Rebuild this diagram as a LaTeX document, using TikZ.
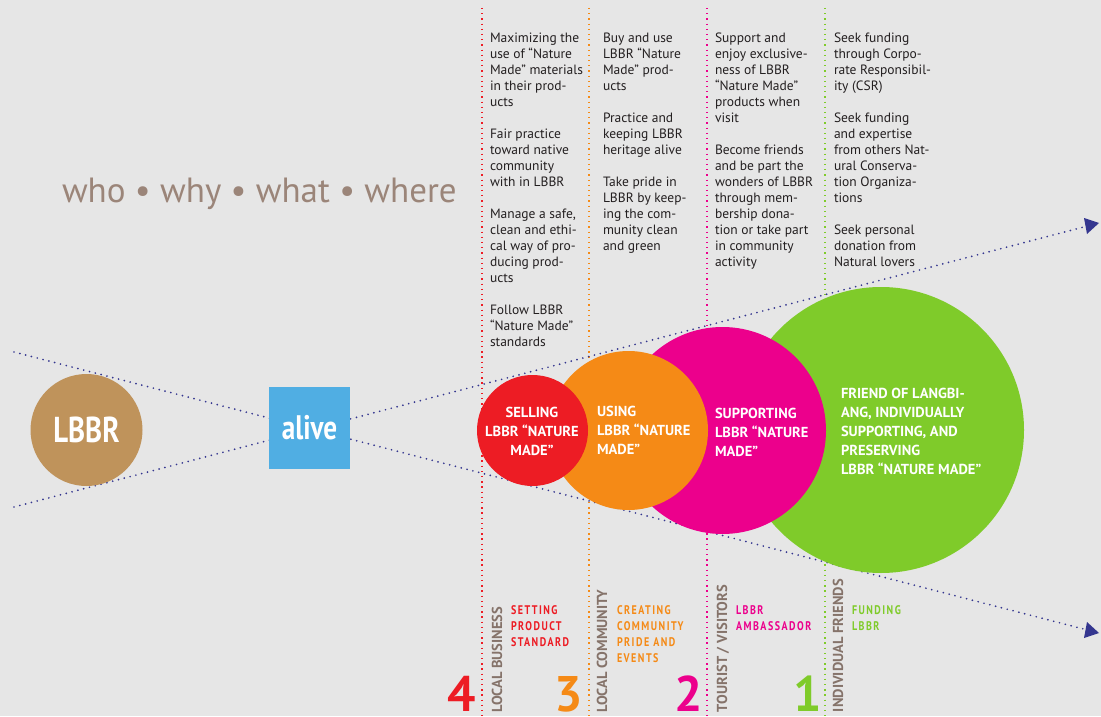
\documentclass[tikz,border=0pt]{standalone}
\usepackage{fontspec}
\setmainfont{PT Sans}
\newfontfamily\condfont[FakeStretch=0.8]{PT Sans}
\newfontfamily\spacedfont[FakeStretch=0.8,LetterSpace=12]{PT Sans}
\usepackage{tikz}
\usetikzlibrary{arrows.meta}
\usepackage{xcolor}
\definecolor{bggray}{HTML}{E6E6E6}
\definecolor{lbbrbrown}{HTML}{BF935B}
\definecolor{aliveblue}{HTML}{50AEE3}
\definecolor{sellred}{HTML}{ED1C24}
\definecolor{useorange}{HTML}{F58A16}
\definecolor{suppmagenta}{HTML}{EC008C}
\definecolor{friendgreen}{HTML}{7FCB2A}
\definecolor{taupe}{HTML}{9B8579}
\definecolor{sidetaupe}{HTML}{85736A}
\definecolor{flowblue}{HTML}{34368F}
\definecolor{inkblack}{HTML}{231F20}

\begin{document}
\begin{tikzpicture}[x=1pt, y=-1pt,
    every node/.style={inner sep=0pt, outer sep=0pt},
    guide/.style={line width=1.8pt, dash pattern=on 1.3pt off 3.9pt},
    flow/.style={draw=flowblue, line width=1.9pt, dash pattern=on 0pt off 6pt, line cap=round},
    col/.style={anchor=base west, align=left, text=inkblack, font=\fontsize{13.5}{16}\selectfont},
    disc/.style={circle, minimum size=#1},
    inlabel/.style={text=white, align=left, font=\bfseries\fontsize{14.5}{19}\selectfont},
    side/.style={rotate=90, anchor=base west, text=sidetaupe, font=\bfseries\fontsize{14.5}{16}\selectfont},
    aim/.style={anchor=base west, align=left, font=\spacedfont\bfseries\fontsize{12.5}{16}\selectfont},
    rank/.style={anchor=base, font=\bfseries\fontsize{50}{50}\selectfont}
]
    % background
    \fill[bggray] (0,0) rectangle (1101,716);

    % column guides
    \draw[guide, sellred] (482,8) -- (482,716);
    \draw[guide, useorange] (589,8) -- (589,716);
    \draw[guide, suppmagenta] (707,8) -- (707,716);
    \draw[guide, friendgreen] (825,8) -- (825,716);

    % title
    \node[anchor=base west, text=taupe, font=\fontsize{35}{35}\selectfont] (title) at (62,202) {who • why • what • where};

    % the two dotted rays, crossing at alive
    \coordinate (rayUp) at (14,352);
    \coordinate (rayDown) at (14,507);
    \coordinate (tipLow) at (1099,633);
    \coordinate (tipHigh) at (1099,223);
    \draw[flow] (rayUp) -- (tipLow);
    \draw[flow] (rayDown) -- (tipHigh);
    \fill[flowblue] (tipHigh) -- ++(-15,-5) -- ++(3,16) -- cycle;
    \fill[flowblue] (tipLow) -- ++(-15,5) -- ++(3,-16) -- cycle;

    % start
    \node[disc=112pt, fill=lbbrbrown, text=white, font=\condfont\bfseries\fontsize{36}{36}\selectfont] (lbbr) at (86.5,430) {LBBR};
    \node[minimum width=81pt, minimum height=82pt, fill=aliveblue, text=white, font=\condfont\bfseries\fontsize{34}{34}\selectfont] (alive) at (309.5,428) {alive};

    % circles, biggest first
    \node[disc=286pt, fill=friendgreen] (friend) at (881,430) {};
    \node[disc=207pt, fill=suppmagenta] (support) at (722.5,430.5) {};
    \node[disc=159pt, fill=useorange] (using) at (628.5,430.5) {};
    \node[disc=111pt, fill=sellred] (selling) at (532.5,430.5) {};

    \node[inlabel, align=center] (sellText) at (532,431) {SELLING\\LBBR “NATURE\\MADE”};
    \node[inlabel, anchor=west] (useText) at (597,430) {USING\\LBBR “NATURE\\MADE”};
    \node[inlabel, anchor=west] (suppText) at (715,432) {SUPPORTING\\LBBR “NATURE\\MADE”};
    \node[inlabel, anchor=west] (friendText) at (841,431) {FRIEND OF LANGBI-\\ANG, INDIVIDUALLY\\SUPPORTING, AND\\PRESERVING\\LBBR “NATURE MADE”};

    % what each group does (anchored on the last line)
    \node[col] (bizText) at (490,346) {Maximizing the\\use of “Nature\\Made” materials\\in their prod-\\ucts\\[16pt]Fair practice\\toward native\\community\\with in LBBR\\[16pt]Manage a safe,\\clean and ethi-\\cal way of pro-\\ducing prod-\\ucts\\[16pt]Follow LBBR\\“Nature Made”\\standards};
    \node[col] (commText) at (603,250) {Buy and use\\LBBR “Nature\\Made” prod-\\ucts\\[16pt]Practice and\\keeping LBBR\\heritage alive\\[16pt]Take pride in\\LBBR by keep-\\ing the com-\\munity clean\\and green};
    \node[col] (touristText) at (715,266) {Support and\\enjoy exclusive-\\ness of LBBR\\“Nature Made”\\products when\\visit\\[16pt]Become friends\\and be part the\\wonders of LBBR\\through mem-\\bership dona-\\tion or take part\\in community\\activity};
    \node[col] (friendsText) at (834,266) {Seek funding\\through Corpo-\\rate Responsibil-\\ity (CSR)\\[16pt]Seek funding\\and expertise\\from others Nat-\\ural Conserva-\\tion Organiza-\\tions\\[16pt]Seek personal\\donation from\\Natural lovers};

    % who, bottom row
    \node[side] (bizSide) at (502,712) {LOCAL BUSINESS};
    \node[side] (commSide) at (607,712) {LOCAL COMMUNITY};
    \node[side] (touristSide) at (727,712) {TOURIST / VISITORS};
    \node[side] (friendsSide) at (843,712) {INDIVIDUAL FRIENDS};

    \node[aim, text=sellred] (bizAim) at (511,646) {SETTING\\PRODUCT\\STANDARD};
    \node[aim, text=useorange] (commAim) at (617,662) {CREATING\\COMMUNITY\\PRIDE AND\\EVENTS};
    \node[aim, text=suppmagenta] (touristAim) at (736,630) {LBBR\\AMBASSADOR};
    \node[aim, text=friendgreen] (friendsAim) at (852,630) {FUNDING\\LBBR};

    \node[rank, text=sellred] (four) at (462,711) {4};
    \node[rank, text=useorange] (three) at (569,711) {3};
    \node[rank, text=suppmagenta] (two) at (689,711) {2};
    \node[rank, text=friendgreen] (one) at (808,711) {1};
\end{tikzpicture}
\end{document}
